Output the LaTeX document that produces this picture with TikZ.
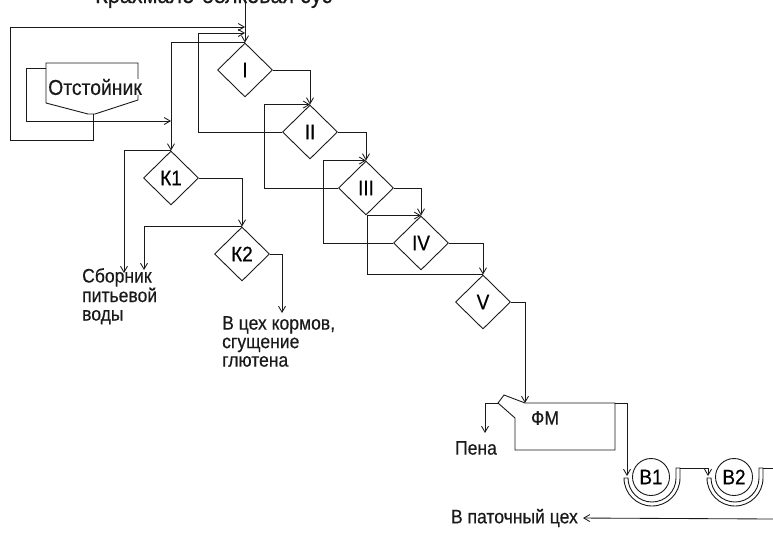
\documentclass[tikz,border=0pt]{standalone}
\usepackage{fontspec}
\setmainfont{Liberation Sans}[FakeStretch=0.9,FakeBold=0.4]
\usetikzlibrary{positioning,arrows.meta,shapes.geometric}
\definecolor{tush}{HTML}{1A1A1A}
\tikzset{
  romb/.style={diamond,draw=tush,line width=0.9pt,minimum width=55pt,minimum height=54pt,inner sep=0pt,font=\fontsize{21}{21}\selectfont},
  strelka/.style={-{Straight Barb[length=6pt,width=7pt]},line width=0.85pt,color=tush},
  liniya/.style={line width=0.9pt,color=tush},
  nadpis/.style={font=\fontsize{19.5}{18.5}\selectfont,align=left,inner sep=0pt,text=tush},
  krug/.style={circle,draw=tush,line width=0.9pt,minimum size=37pt,inner sep=0pt,font=\fontsize{21}{21}\selectfont},
  chasha/.pic={\draw[liniya] (-28,1) arc[start angle=180,end angle=0,radius=28] -- (28,-9) -- (24,-9) -- (24,1)
    arc[start angle=0,end angle=180,radius=24] -- cycle;},
}
\begin{document}
\begin{tikzpicture}[x=1pt,y=-1pt,on grid]
  \useasboundingbox (0,0) rectangle (773,538);
  \node[nadpis,anchor=base west,font=\fontsize{24}{24}\selectfont] (titul) at (95,3) {Крахмало-белковая сус};
  % гидроциклоны
  \node[romb] (r1) at (245,70) {I};
  \node[romb,below right=62pt and 65pt of r1] (r2) {II};
  \node[romb,below right=56pt and 56pt of r2] (r3) {III};
  \node[romb,below right=55pt and 55pt of r3] (r4) {IV};
  \node[romb,below right=59pt and 62pt of r4] (r5) {V};
  \node[romb] (k1) at (171,178) {К1};
  \node[romb,below right=76pt and 71pt of k1] (k2) {К2};
  % отстойник
  \draw[liniya] (46,63) -- (138,63) -- (138,100) -- (95,114) -- (88,114) -- (46,103) -- cycle;
  \node[nadpis,fill=white,font=\fontsize{21.5}{21}\selectfont] (otst) at (95,87) {Отстойник};
  \coordinate (otstniz) at (93,114);
  \coordinate (otstlev) at (46,68);
  \coordinate (verh) at (245,0);
  \coordinate (vvod1) at (245,27);
  \coordinate (vvod2) at (245,33);
  \coordinate (vvodk1) at (171,121);
  \coordinate (sbor1) at (124,273);
  \coordinate (sbor2) at (144,270);
  \coordinate (korm) at (282,313);
  \draw[strelka] (verh) -- (r1.north);
  \draw[strelka] (otstniz) |- (10,140) |- (vvod1);
  \draw[strelka] (otstlev) -| (26,121) -- (vvodk1);
  \draw[strelka] (r2.west) -| (198,33) -- (vvod2);
  \draw[strelka] (r1.north) -| (k1.north);
  \draw[strelka] (r1.east) -| (r2.north);
  \draw[strelka] (r3.west) -- ++(-74,0) |- (r2.north);
  \draw[strelka] (r2.east) -| (r3.north);
  \draw[strelka] (r4.west) -- ++(-70,0) |- (r3.north);
  \draw[strelka] (r3.east) -| (r4.north);
  \draw[strelka] (r5.north) -- ++(-116,0) |- (r4.north);
  \draw[strelka] (r4.east) -| (r5.north);
  \draw[strelka] (k1.north) -| (sbor1);
  \draw[strelka] (k1.east) -| (k2.north);
  \draw[strelka] (k2.north) -| (sbor2);
  \draw[strelka] (k2.east) -| (korm);
  \node[nadpis,anchor=north west] (sbornik) at (82,268) {Сборник\\питьевой\\воды};
  \node[nadpis,anchor=north west] (korma) at (222,316) {В цех кормов,\\сгущение\\глютена};
  % флотационная машина
  \draw[liniya] (515,450) -- (515,418) -- (498,403) -- (504,395) -- (525,403) -- (615,403) -- (615,450) -- cycle;
  \node[nadpis] (fm) at (545,418) {ФМ};
  \coordinate (fmvhod) at (525,403);
  \coordinate (fmnos) at (498,403);
  \coordinate (pena) at (485,433);
  \coordinate (fmsliv) at (615,403);
  \draw[strelka] (r5.east) -| (fmvhod);
  \draw[strelka] (fmnos) -| (pena);
  \node[nadpis] (penatxt) at (476,448) {Пена};
  % вакуум-фильтры
  \node[krug] (v1) at (651,477) {В1};
  \node[krug] (v2) at (734,477) {В2};
  \pic at (652,477) {chasha};
  \pic at (735,477) {chasha};
  \coordinate (v1vhod) at (627,476);
  \coordinate (v1guba) at (680,468);
  \coordinate (v2vhod) at (708,476);
  \coordinate (v2guba) at (763,468);
  \coordinate (pravkraj) at (773,468);
  \coordinate (niz) at (773,519);
  \draw[strelka] (fmsliv) -| (v1vhod);
  \draw[strelka] (v1guba) -| (v2vhod);
  \draw[liniya] (v2guba) -- (pravkraj);
  \node[nadpis,anchor=east] (patoka) at (578,518) {В паточный цех};
  \draw[strelka,shorten >=5pt] (niz) -- (patoka.east);
\end{tikzpicture}
\end{document}
